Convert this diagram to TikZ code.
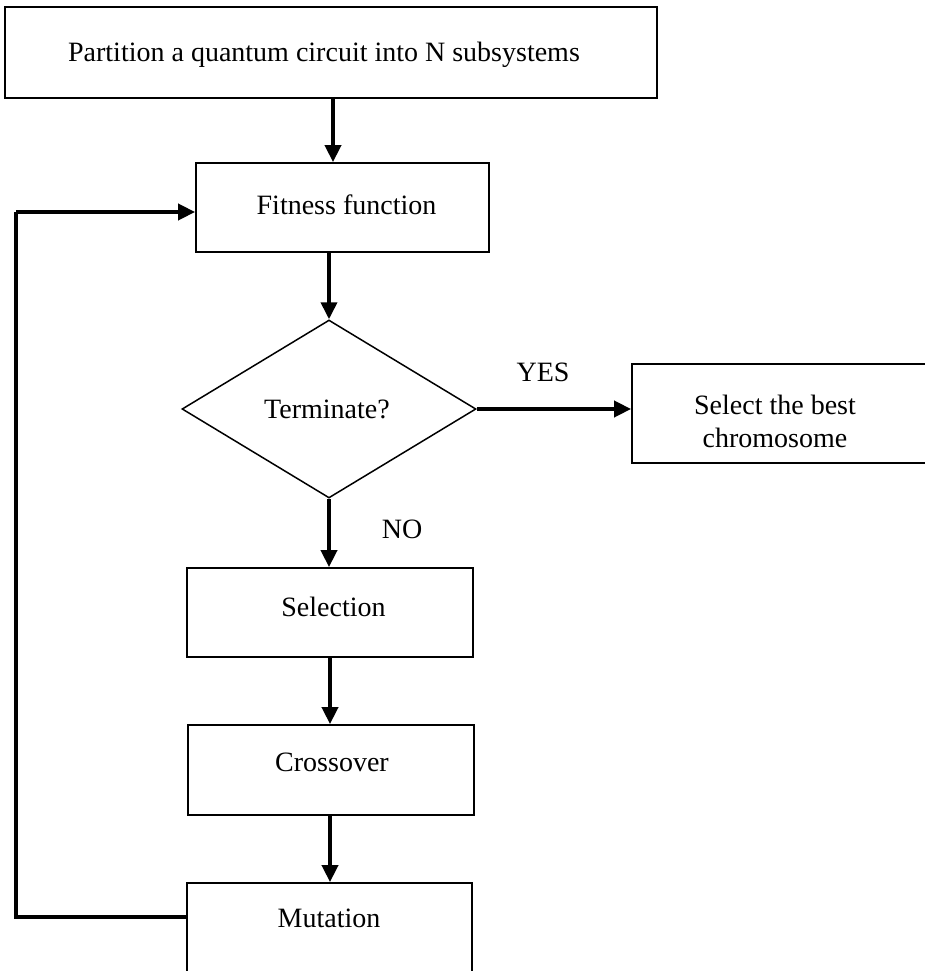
\documentclass[tikz,border=0pt]{standalone}
\usepackage{fontspec}
\setmainfont{Liberation Serif}
\usetikzlibrary{shapes.geometric,arrows.meta}
\tikzset{
  box/.style={draw, line width=1.8pt, rectangle, inner sep=0pt},
  decision/.style={draw, line width=1.5pt, diamond, inner sep=0pt},
  lbl/.style={anchor=base, inner sep=0pt, font=\fontsize{28pt}{33pt}\selectfont},
  flow/.style={line width=3.8pt, -{Triangle[length=17pt,width=16pt]}},
  loopline/.style={line width=3.6pt, line join=miter},
}
\begin{document}
\begin{tikzpicture}[x=1pt,y=-1pt]
  \useasboundingbox (0,0) rectangle (925,971);
  \clip (0,0) rectangle (925,971);

  % boxes of the genetic algorithm loop
  \node[box, minimum width=652pt, minimum height=91pt] (part) at (331,52.5) {};
  \node[box, minimum width=293pt, minimum height=89pt] (fit) at (342.5,207.5) {};
  \node[decision, minimum width=294pt, minimum height=178pt] (term) at (329,409) {};
  \node[box, minimum width=303pt, minimum height=99pt] (best) at (783.5,413.5) {};
  \node[box, minimum width=286pt, minimum height=89pt] (sel) at (330,612.5) {};
  \node[box, minimum width=286pt, minimum height=90pt] (cross) at (331,770) {};
  \node[box, minimum width=285pt, minimum height=96pt] (mut) at (329.5,931) {};

  % texts
  \node[lbl] (part-t) at (324,62) {Partition a quantum circuit into N subsystems};
  \node[lbl] (fit-t) at (346.5,214.5) {Fitness function};
  \node[lbl] (term-t) at (327,418.5) {Terminate?};
  \node[lbl] (best-t1) at (775,414) {Select the best};
  \node[lbl] (best-t2) at (775,447) {chromosome};
  \node[lbl] (sel-t) at (333.5,616.5) {Selection};
  \node[lbl] (cross-t) at (332,771.5) {Crossover};
  \node[lbl] (mut-t) at (329,927.5) {Mutation};
  \node[lbl] (yes) at (543,381) {YES};
  \node[lbl] (no) at (402,538) {NO};

  % connectors
  \draw[flow] ([xshift=2pt]part.south) -- ([xshift=2pt]part.south |- fit.north);
  \draw[flow] (term.north |- fit.south) -- (term.north);
  \draw[flow] (term.east) -- (term.east -| best.west);
  \draw[flow] (term.south) -- (term.south |- sel.north);
  \draw[flow] (sel.south) -- (sel.south |- cross.north);
  \draw[flow] ([xshift=-1pt]cross.south) -- ([xshift=-1pt]cross.south |- mut.north);

  % feedback loop from mutation back to the fitness evaluation
  \coordinate (loopa) at (16,917);
  \coordinate (loopb) at (16,212);
  \draw[loopline] (mut.west |- loopa) -- (loopa) -- (loopb);
  \draw[flow] (loopb) -- (loopb -| fit.west);
\end{tikzpicture}
\end{document}
